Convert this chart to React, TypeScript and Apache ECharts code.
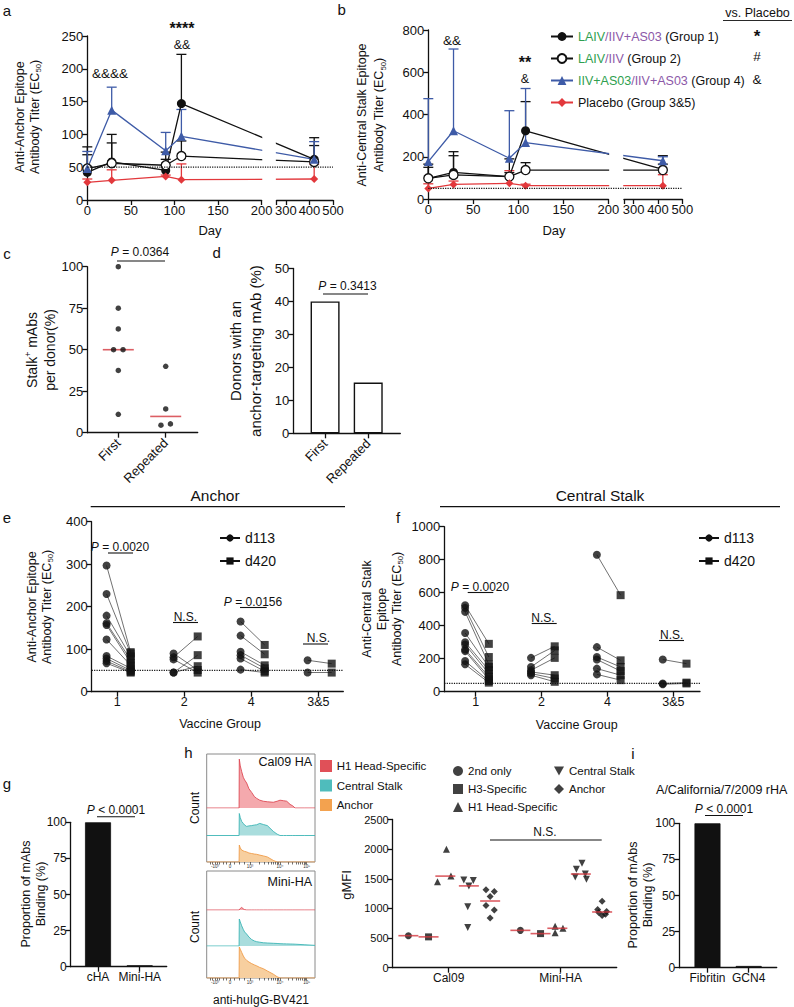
import React, { useEffect, useRef } from 'react';
import * as echarts from 'echarts';

const FONT = '"Liberation Sans", Arial, Helvetica, sans-serif';
const INK = '#111111';
const BLUE = '#3e5ba7';
const RED = '#e2383c';
const GREEN = '#2f9f50';
const PURPLE = '#8c58a8';
const MEDIAN_RED = '#d3363d';

// ---------- panels a & b (time course) ----------
const studyDays = [0, 28, 90, 108, 420];
const groupLabels = ['Group 1', 'Group 2', 'Group 4', 'Placebo'];
const anchorG1 = [42, 58, 45, 147, 62];
const anchorG1Upper = [69, 100, 73, 222, 95];
const anchorG2 = [48, 56, 53, 67, 58];
const anchorG2Upper = [81, 87, 62, 90, 83];
const anchorG4 = [48, 137, 75, 97, 62];
const anchorG4Upper = [74, 172, 103, 138, 89];
const anchorPlacebo = [27, 30, 36, 31, 32];
const anchorPlaceboUpper = [32, 46, 38, 55, 55];
const stalkG1 = [98, 126, 106, 323, 140];
const stalkG1Upper = [165, 224, 190, 461, 205];
const stalkG2 = [98, 114, 106, 137, 137];
const stalkG2Upper = [150, 205, 125, 172, 165];
const stalkG4 = [177, 323, 193, 267, 181];
const stalkG4Upper = [475, 710, 418, 523, 200];
const stalkPlacebo = [50, 69, 74, 63, 63];
const stalkPlaceboUpper = [72, 85, 134, 70, 115];
const dayTicksLeft = [0, 50, 100, 150, 200];
const dayTicksRight = [300, 400, 500];
const detectionLimit = 50;

// broken day axis: 0-200 linear, then 260-500 compressed
const BREAK_AT = 200;
const BREAK_GAP = 17.2;
const SEG2_FROM = 260;
const SEG2_SCALE = 0.27;
const DAY_MAX = 500;
const toAxis = (d: number) => (d <= BREAK_AT ? d : BREAK_AT + BREAK_GAP + (d - SEG2_FROM) * SEG2_SCALE);
const V_MAX = toAxis(DAY_MAX);

// ---------- panel c ----------
const cCategories = ['First', 'Repeated'];
const cFirst = [100, 75, 62.5, 50, 50, 37.5, 11.1];
const cFirstJitter = [0, 0, 0, -0.1, 0.1, 0, 0];
const cRepeated = [40, 14.3, 4.5, 5.3];
const cRepeatedJitter = [0, 0, -0.1, 0.1];

// ---------- panel d ----------
const dCategories = ['First', 'Repeated'];
const dValues = [40, 15.4];

// ---------- panels e & f ----------
const vaccineGroups = ['1', '2', '4', '3&5'];
const eAnchorD113 = [
  [297, 230, 179, 161, 157, 123, 84, 78, 72, 67],
  [90, 81, 76, 45, 45],
  [165, 132, 94, 86, 78, 52],
  [74, 45],
];
const eAnchorD420 = [
  [93, 90, 83, 75, 68, 62, 55, 50, 47, 45],
  [51, 130, 45, 86, 60],
  [110, 88, 62, 55, 48, 45],
  [66, 45],
];
const fStalkD113 = [
  [524, 508, 484, 356, 300, 286, 256, 246, 186, 166],
  [205, 150, 130, 120, 110, 100],
  [830, 270, 210, 195, 140, 105],
  [195, 50, 45],
];
const fStalkD420 = [
  [290, 210, 165, 150, 130, 110, 90, 75, 65, 55],
  [275, 250, 205, 100, 80, 60],
  [585, 190, 150, 125, 100, 70],
  [170, 55, 50],
];

// ---------- panel g ----------
const gCategories = ['cHA', 'Mini-HA'];
const gValues = [100, 1];

// ---------- panel h ----------
const hCategories = ['Cal09', 'Mini-HA'];
const hTypes = ['2nd only', 'H3-Specific', 'H1 Head-Specific', 'Central Stalk', 'Anchor'];
const hSymbols = ['circle', 'rect', 'triangle', 'triangle', 'diamond'];
const hRotate = [0, 0, 0, 180, 0];
const hOffsets = [-0.36, -0.18, -0.03, 0.18, 0.37];
const hCal09 = [[540], [520], [2000, 1450, 1545], [1480, 1470, 1380, 1030, 680], [1315, 1285, 1200, 1050, 975, 840]];
const hCal09Jitter = [[0], [0], [0.01, -0.07, 0.05], [-0.045, 0.04, 0, -0.01, -0.01], [-0.037, 0.037, 0, -0.037, 0.037, 0]];
const hMini = [[630], [575], [590, 700, 665], [1760, 1660, 1580, 1530, 1490], [1120, 980, 950, 930, 900, 880]];
const hMiniJitter = [[0], [0], [-0.02, -0.02, 0.05], [0.01, -0.04, 0.04, -0.05, 0.05], [0, -0.04, 0.04, -0.03, 0.03, 0]];

const histBins = [0, 29.9, 30.1, 31, 32.3, 33.8, 35, 36.9, 39, 41.5, 44, 46.1, 49, 52.3, 56, 61.5, 65, 67.7, 71, 73.9, 77, 79.5, 81.6, 90, 100];
const cal09Head = [0, 0, 0.94, 0.81, 0.7, 0.59, 0.54, 0.48, 0.37, 0.3, 0.22, 0.185, 0.15, 0.13, 0.12, 0.11, 0.13, 0.15, 0.14, 0.13, 0.07, 0.04, 0, 0, 0];
const cal09Stalk = [0, 0, 0.8, 0.65, 0.51, 0.44, 0.38, 0.33, 0.35, 0.36, 0.38, 0.39, 0.44, 0.4, 0.36, 0.15, 0.05, 0, 0, 0, 0, 0, 0, 0, 0];
const cal09Anchor = [0, 0, 0.64, 0.53, 0.45, 0.42, 0.4, 0.38, 0.34, 0.32, 0.3, 0.29, 0.26, 0.23, 0.19, 0.06, 0, 0, 0, 0, 0, 0, 0, 0, 0];
const miniHead = [0, 0, 0.01, 0.04, 0.065, 0.03, 0.01, 0, 0, 0, 0, 0, 0, 0, 0, 0, 0, 0, 0, 0, 0, 0, 0, 0, 0];
const miniStalk = [0, 0, 0.75, 0.67, 0.56, 0.46, 0.39, 0.33, 0.25, 0.18, 0.14, 0.12, 0.105, 0.09, 0.083, 0.075, 0.07, 0.064, 0.06, 0.058, 0.055, 0.053, 0.05, 0.036, 0.017];
const miniAnchor = [0, 0, 0.97, 0.9, 0.8, 0.69, 0.62, 0.55, 0.5, 0.45, 0.41, 0.38, 0.33, 0.29, 0.22, 0.12, 0.04, 0, 0, 0, 0, 0, 0, 0, 0];
const histTickPositions = [7.7, 21.5, 40, 67.7, 92.3];
const histTickLabels = ['-10³', '0', '10³', '10⁴', '10⁵'];
const histMinorTicks = [3, 5, 10, 12, 15, 18, 25, 30, 35, 48.3, 53.2, 56.7, 59.4, 61.6, 63.4, 65, 66.4, 75.1, 79.4, 82.5, 84.9, 86.8, 88.5, 89.9, 91.2];

// ---------- panel i ----------
const iCategories = ['Fibritin', 'GCN4'];
const iValues = [100, 1.2];

const median = (arr: number[]) => {
  const s = [...arr].sort((a, b) => a - b);
  const m = Math.floor(s.length / 2);
  return s.length % 2 ? s[m] : (s[m - 1] + s[m]) / 2;
};

function buildOption() {
  const grids: any[] = [];
  const xAxis: any[] = [];
  const yAxis: any[] = [];
  const series: any[] = [];
  const graphic: any[] = [];
  const legend: any[] = [];

  const addGrid = (box: any, xa: any, ya: any) => {
    const gi = grids.length;
    grids.push({ show: false, containLabel: false, ...box });
    xAxis.push({ ...xa, gridIndex: gi });
    yAxis.push({ ...ya, gridIndex: gi });
    return gi;
  };

  const axis = (o: any) => {
    const { fontSize = 12, ticks, labels, formatter, rotate, margin = 4, ...rest } = o;
    const a: any = {
      type: 'value',
      axisLine: { show: true, onZero: false, lineStyle: { color: INK, width: 1.3 } },
      axisTick: { show: true, length: 5, lineStyle: { color: INK, width: 1.3 } },
      axisLabel: {
        color: INK, fontSize, fontFamily: FONT, margin, showMinLabel: true, showMaxLabel: true,
        formatter: formatter || ((v: number) => String(v)),
      },
      splitLine: { show: false },
      ...rest,
    };
    if (ticks) a.axisTick.customValues = ticks;
    if (labels) a.axisLabel.customValues = labels;
    if (rotate) a.axisLabel.rotate = rotate;
    return a;
  };
  const hidden = (min: number, max: number) => ({ type: 'value', min, max, show: false });

  const errorBars = (gi: number, data: any[], color: string) => ({
    type: 'custom',
    xAxisIndex: gi,
    yAxisIndex: gi,
    data,
    z: 1,
    silent: true,
    renderItem: (_p: any, api: any) => {
      const base = api.coord([api.value(0), api.value(1)]);
      const top = api.coord([api.value(0), api.value(2)]);
      const style = { stroke: color, lineWidth: 1.3 };
      return {
        type: 'group',
        children: [
          { type: 'line', shape: { x1: base[0], y1: base[1], x2: top[0], y2: top[1] }, style },
          { type: 'line', shape: { x1: top[0] - 5, y1: top[1], x2: top[0] + 5, y2: top[1] }, style },
        ],
      };
    },
  });

  const groupStyles = [
    { color: INK, symbol: 'circle', size: 9, item: { color: INK } },
    { color: INK, symbol: 'circle', size: 9, item: { color: '#ffffff', borderColor: INK, borderWidth: 1.3 } },
    { color: BLUE, symbol: 'triangle', size: 9, item: { color: BLUE } },
    { color: RED, symbol: 'diamond', size: 8, item: { color: RED } },
  ];

  const brokenPanel = (box: any, yMax: number, yInt: number, maskTop: number, means: number[][], uppers: number[][]) => {
    const pp = box.width / V_MAX;
    const gi = addGrid(box, hidden(0, V_MAX), axis({ min: 0, max: yMax, interval: yInt, fontSize: 13 }));
    addGrid(
      { left: box.left, top: box.top, width: BREAK_AT * pp, height: box.height },
      axis({ min: 0, max: BREAK_AT, fontSize: 13, ticks: dayTicksLeft, labels: dayTicksLeft }),
      hidden(0, 1)
    );
    addGrid(
      { left: box.left + (BREAK_AT + BREAK_GAP) * pp, top: box.top, width: (V_MAX - BREAK_AT - BREAK_GAP) * pp, height: box.height },
      axis({ min: SEG2_FROM, max: DAY_MAX, fontSize: 13, ticks: [SEG2_FROM, ...dayTicksRight], labels: dayTicksRight }),
      hidden(0, 1)
    );
    means.forEach((m, k) => {
      const st = groupStyles[k];
      series.push(errorBars(gi, studyDays.map((d, i) => [toAxis(d), m[i], uppers[k][i]]), st.color));
      series.push({
        type: 'line',
        name: groupLabels[k],
        xAxisIndex: gi,
        yAxisIndex: gi,
        data: studyDays.map((d, i) => [toAxis(d), m[i]]),
        symbol: st.symbol,
        symbolSize: st.size,
        itemStyle: st.item,
        lineStyle: { color: st.color, width: 1.3 },
        z: 3,
      });
    });
    // white gap between the two axis segments
    series.push({
      type: 'custom',
      xAxisIndex: gi,
      yAxisIndex: gi,
      data: [[BREAK_AT + 0.8, BREAK_AT + BREAK_GAP - 0.8]],
      z: 4,
      silent: true,
      renderItem: (_p: any, api: any) => {
        const a = api.coord([api.value(0), maskTop]);
        const b = api.coord([api.value(1), 0]);
        return { type: 'rect', shape: { x: a[0], y: a[1], width: b[0] - a[0], height: b[1] - a[1] - 1 }, style: { fill: '#ffffff' } };
      },
    });
    series.push({
      type: 'line',
      xAxisIndex: gi,
      yAxisIndex: gi,
      data: [[0, detectionLimit], [V_MAX, detectionLimit]],
      symbol: 'none',
      silent: true,
      lineStyle: { type: 'dotted', color: INK, width: 1.2 },
      z: 5,
    });
    return gi;
  };

  brokenPanel({ left: 87.3, top: 36, width: 245.7, height: 164 }, 250, 50, 250,
    [anchorG1, anchorG2, anchorG4, anchorPlacebo], [anchorG1Upper, anchorG2Upper, anchorG4Upper, anchorPlaceboUpper]);
  brokenPanel({ left: 428.3, top: 30, width: 254, height: 169 }, 800, 200, 400,
    [stalkG1, stalkG2, stalkG4, stalkPlacebo], [stalkG1Upper, stalkG2Upper, stalkG4Upper, stalkPlaceboUpper]);

  // ---- c
  const cG = addGrid(
    { left: 87.3, top: 266.7, width: 110.4, height: 166 },
    axis({ min: 0.346, max: 2.675, fontSize: 13, margin: 8, ticks: [1, 2], labels: [1, 2], rotate: 45, formatter: (v: number) => cCategories[Math.round(v) - 1] }),
    axis({ min: 0, max: 100, interval: 25, fontSize: 13 })
  );
  series.push({
    type: 'scatter', xAxisIndex: cG, yAxisIndex: cG, symbolSize: 5.5, itemStyle: { color: INK }, z: 3,
    data: [...cFirst.map((v, i) => [1 + cFirstJitter[i], v]), ...cRepeated.map((v, i) => [2 + cRepeatedJitter[i], v])],
  });
  series.push({
    type: 'scatter', xAxisIndex: cG, yAxisIndex: cG, symbol: 'rect', symbolSize: [31, 1.6], itemStyle: { color: MEDIAN_RED }, z: 2, silent: true,
    data: [[1, median(cFirst)], [2, median(cRepeated)]],
  });

  // ---- d
  const dG = addGrid(
    { left: 293.3, top: 268.5, width: 107, height: 164.8 },
    axis({ min: 0.263, max: 2.744, fontSize: 13, margin: 8, ticks: [1, 2], labels: [1, 2], rotate: 45, formatter: (v: number) => dCategories[Math.round(v) - 1] }),
    axis({ min: 0, max: 50, interval: 10, fontSize: 13 })
  );
  series.push({
    type: 'bar', xAxisIndex: dG, yAxisIndex: dG, barWidth: 29,
    itemStyle: { color: '#ffffff', borderColor: INK, borderWidth: 1.4 },
    data: dValues.map((v, i) => [i + 1, v]),
  });

  // ---- e & f
  const PRE = -0.16;
  const POST = 0.2;
  const pairedPanel = (box: any, xMin: number, xMax: number, yMax: number, yInt: number, d113: number[][], d420: number[][]) => {
    const gi = addGrid(
      box,
      axis({ min: xMin, max: xMax, fontSize: 12.5, ticks: [1, 2, 3, 4], labels: [1, 2, 3, 4], formatter: (v: number) => vaccineGroups[Math.round(v) - 1] }),
      axis({ min: 0, max: yMax, interval: yInt, fontSize: 13 })
    );
    const links: any[] = [];
    const p113: any[] = [];
    const p420: any[] = [];
    d113.forEach((grp, k) =>
      grp.forEach((v, j) => {
        const a = [k + 1 + PRE, v];
        const b = [k + 1 + POST, d420[k][j]];
        p113.push(a);
        p420.push(b);
        links.push({ coords: [a, b] });
      })
    );
    series.push({ type: 'lines', coordinateSystem: 'cartesian2d', xAxisIndex: gi, yAxisIndex: gi, data: links, silent: true, z: 1, lineStyle: { color: '#333333', width: 0.7, opacity: 1 } });
    series.push({ type: 'line', xAxisIndex: gi, yAxisIndex: gi, data: [[xMin, detectionLimit], [xMax, detectionLimit]], symbol: 'none', silent: true, lineStyle: { type: 'dotted', color: INK, width: 1.2 }, z: 2 });
    series.push({ type: 'scatter', xAxisIndex: gi, yAxisIndex: gi, data: p113, symbol: 'circle', symbolSize: 8, itemStyle: { color: INK }, z: 3 });
    series.push({ type: 'scatter', xAxisIndex: gi, yAxisIndex: gi, data: p420, symbol: 'rect', symbolSize: 8, itemStyle: { color: INK }, z: 3 });
    series.push({ type: 'line', name: 'd113', xAxisIndex: gi, yAxisIndex: gi, data: [], symbol: 'circle', symbolSize: 8, itemStyle: { color: INK }, lineStyle: { color: INK, width: 1.3 } });
    series.push({ type: 'line', name: 'd420', xAxisIndex: gi, yAxisIndex: gi, data: [], symbol: 'rect', symbolSize: 8, itemStyle: { color: INK }, lineStyle: { color: INK, width: 1.3 } });
    return gi;
  };
  pairedPanel({ left: 91.7, top: 521.7, width: 251.6, height: 170 }, 0.618, 4.373, 400, 100, eAnchorD113, eAnchorD420);
  pairedPanel({ left: 444.3, top: 526.7, width: 255.7, height: 165 }, 0.524, 4.405, 1000, 200, fStalkD113, fStalkD420);

  // ---- g
  const gG = addGrid(
    { left: 70.7, top: 822.3, width: 96, height: 144.4 },
    axis({ min: 0.345, max: 2.647, fontSize: 12, ticks: [1, 2], labels: [1, 2], formatter: (v: number) => gCategories[Math.round(v) - 1] }),
    axis({ min: 0, max: 100, interval: 25, fontSize: 12 })
  );
  series.push({ type: 'bar', xAxisIndex: gG, yAxisIndex: gG, barWidth: 26, itemStyle: { color: INK, borderColor: INK, borderWidth: 0.8 }, data: gValues.map((v, i) => [i + 1, v]) });

  // ---- i
  const iG = addGrid(
    { left: 679.3, top: 823.3, width: 97.4, height: 144.4 },
    axis({ min: 0.316, max: 2.68, fontSize: 12, ticks: [1, 2], labels: [1, 2], formatter: (v: number) => iCategories[Math.round(v) - 1] }),
    axis({ min: 0, max: 100, interval: 25, fontSize: 12 })
  );
  series.push({ type: 'bar', xAxisIndex: iG, yAxisIndex: iG, barWidth: 26, itemStyle: { color: INK, borderColor: INK, borderWidth: 0.8 }, data: iValues.map((v, i) => [i + 1, v]) });

  // ---- h scatter
  const hG = addGrid(
    { left: 392.7, top: 819.5, width: 224, height: 148.2 },
    axis({ min: 0.5, max: 2.5, fontSize: 12, ticks: [1, 2], labels: [1, 2], formatter: (v: number) => hCategories[Math.round(v) - 1] }),
    axis({ min: 0, max: 2500, interval: 500, fontSize: 11 })
  );
  const hMedians: any[] = [];
  hTypes.forEach((t, k) => {
    const data: any[] = [];
    hCal09[k].forEach((v, j) => data.push([1 + hOffsets[k] + hCal09Jitter[k][j], v]));
    hMini[k].forEach((v, j) => data.push([2 + hOffsets[k] + hMiniJitter[k][j], v]));
    hMedians.push([1 + hOffsets[k], median(hCal09[k])], [2 + hOffsets[k], median(hMini[k])]);
    series.push({ type: 'scatter', name: t, xAxisIndex: hG, yAxisIndex: hG, data, symbol: hSymbols[k], symbolRotate: hRotate[k], symbolSize: 7, itemStyle: { color: INK }, z: 3 });
  });
  series.push({ type: 'scatter', xAxisIndex: hG, yAxisIndex: hG, data: hMedians, symbol: 'rect', symbolSize: [20, 1.6], itemStyle: { color: MEDIAN_RED }, z: 4, silent: true });

  // ---- h histograms
  const HX = 206.7;
  const HW = 108.3;
  const histFrame = (top: number, bottom: number) =>
    addGrid(
      { left: HX, top, width: HW, height: bottom - top, show: true, borderColor: '#8a8a8a', borderWidth: 1, backgroundColor: 'transparent' },
      {
        type: 'value', min: 0, max: 100,
        axisLine: { show: false },
        axisTick: { show: true, length: 2.5, customValues: [...histTickPositions, ...histMinorTicks], lineStyle: { color: '#333333', width: 0.7 } },
        axisLabel: { show: true, customValues: histTickPositions, fontSize: 4.5, margin: 2, color: '#333333', fontFamily: FONT, formatter: (v: number) => histTickLabels[histTickPositions.indexOf(v)] ?? '' },
        splitLine: { show: false },
      },
      hidden(0, 1)
    );
  const histCurve = (top: number, bottom: number, values: number[], line: string, fill: string) => {
    const gi = addGrid({ left: HX, top, width: HW, height: bottom - top }, hidden(0, 100), hidden(0, 1));
    series.push({
      type: 'line', xAxisIndex: gi, yAxisIndex: gi, silent: true, symbol: 'none', z: 2,
      data: histBins.map((x, i) => [x, values[i]]),
      lineStyle: { color: line, width: 0.9 },
      areaStyle: { color: fill, opacity: 1 },
    });
  };
  histFrame(754, 862);
  histFrame(871, 978);
  const HRED = ['#de4a55', '#f4a9ad'];
  const HTEAL = ['#3db5b5', '#a9dddd'];
  const HORANGE = ['#ef9c4a', '#f7cf9f'];
  histCurve(756, 808, cal09Head, HRED[0], HRED[1]);
  histCurve(808, 835.5, cal09Stalk, HTEAL[0], HTEAL[1]);
  histCurve(835.5, 862, cal09Anchor, HORANGE[0], HORANGE[1]);
  histCurve(871, 910, miniHead, HRED[0], HRED[1]);
  histCurve(910, 946, miniStalk, HTEAL[0], HTEAL[1]);
  histCurve(946, 978, miniAnchor, HORANGE[0], HORANGE[1]);

  // ---- legends
  const rich = {
    g: { color: GREEN, fontSize: 12.5, fontFamily: FONT },
    p: { color: PURPLE, fontSize: 12.5, fontFamily: FONT },
    k: { color: INK, fontSize: 12.5, fontFamily: FONT },
  };
  const legendText: any = {
    'Group 1': '{g|LAIV}{p|/IIV+AS03}{k| (Group 1)}',
    'Group 2': '{g|LAIV}{p|/IIV}{k| (Group 2)}',
    'Group 4': '{g|IIV+AS03}{p|/IIV+AS03}{k| (Group 4)}',
    Placebo: '{k|Placebo (Group 3&5)}',
  };
  legend.push({
    orient: 'vertical', left: 545, top: 25, itemGap: 9, itemWidth: 22, itemHeight: 11, selectedMode: false, z: 10,
    data: groupLabels, formatter: (n: string) => legendText[n],
    textStyle: { fontSize: 12.5, fontFamily: FONT, color: INK, rich },
  });
  const dLegend = (left: number) => ({
    orient: 'vertical', left, top: 526, itemGap: 9, itemWidth: 20, itemHeight: 9, selectedMode: false, z: 10,
    data: ['d113', 'd420'], textStyle: { fontSize: 14, fontFamily: FONT, color: INK },
  });
  legend.push(dLegend(214));
  legend.push(dLegend(693));
  legend.push({
    orient: 'vertical', left: 448, top: 760, itemGap: 6, itemWidth: 10, itemHeight: 10, selectedMode: false, z: 10,
    data: ['2nd only', 'H3-Specific', 'H1 Head-Specific'], textStyle: { fontSize: 11.5, fontFamily: FONT, color: INK },
  });
  legend.push({
    orient: 'vertical', left: 549, top: 760, itemGap: 6, itemWidth: 10, itemHeight: 10, selectedMode: false, z: 10,
    data: [{ name: 'Central Stalk', icon: 'path://M0,0L10,0L5,9Z' }, 'Anchor'],
    textStyle: { fontSize: 11.5, fontFamily: FONT, color: INK },
  });

  // ---- graphic texts
  const txt = (x: number, y: number, text: string, fontSize = 12, extra: any = {}) => ({
    type: 'text', x, y, z: 20, silent: true,
    style: { text, fontSize, fontFamily: FONT, fill: INK, align: 'center', verticalAlign: 'middle', ...extra },
  });
  const hl = (x1: number, x2: number, y: number, w = 1.1) => ({
    type: 'line', z: 20, silent: true, shape: { x1, y1: y, x2, y2: y }, style: { stroke: INK, lineWidth: w },
  });
  const subRich = (fs: number) => ({
    sub: { fontSize: fs * 0.62, fontFamily: FONT, fill: INK, verticalAlign: 'bottom' },
    sup: { fontSize: fs * 0.62, fontFamily: FONT, fill: INK, verticalAlign: 'top' },
  });
  const vtxt = (x: number, y: number, text: string, fontSize: number, lineHeight: number) => ({
    type: 'text', x, y, rotation: Math.PI / 2, z: 20, silent: true,
    style: { text, fontSize, lineHeight, fontFamily: FONT, fill: INK, align: 'center', verticalAlign: 'middle', rich: subRich(fontSize) },
  });
  const pRich = { i: { fontStyle: 'italic', fontSize: 12, fontFamily: FONT, fill: INK } };
  const pval = (cx: number, cy: number, text: string, x1: number, x2: number, ly: number) => [
    txt(cx, cy, text, 12, { rich: pRich }),
    hl(x1, x2, ly),
  ];

  const letters: [string, number, number][] = [
    ['a', 7, 10], ['b', 341.7, 9], ['c', 7, 253], ['d', 216.7, 252], ['e', 7, 517],
    ['f', 398, 517], ['g', 7, 783], ['h', 188.3, 752], ['i', 633, 753],
  ];
  letters.forEach(([l, x, y]) => graphic.push(txt(x, y, l, 15)));

  graphic.push(
    txt(110, 73, '&&&&', 13.5),
    txt(182, 28.5, '****', 16, { fontWeight: 'bold' }),
    txt(182, 45, '&&', 12.5),
    txt(452, 40, '&&', 13.5),
    txt(525, 62.5, '**', 16, { fontWeight: 'bold' }),
    txt(525, 79, '&', 12.5),
    txt(757.5, 13, 'vs. Placebo', 12.5),
    hl(723, 792, 20.5, 0.9),
    txt(757, 36, '*', 17, { fontWeight: 'bold' }),
    txt(757, 56, '#', 13.5),
    txt(757, 79, '&', 13.5),
    txt(210, 230, 'Day', 13),
    txt(554, 230, 'Day', 13),
    vtxt(27.5, 117, 'Anti-Anchor Epitope\nAntibody Titer (EC{sub|50})', 12.5, 15),
    vtxt(370.5, 115, 'Anti-Central Stalk Epitope\nAntibody Titer (EC{sub|50})', 12.5, 17),
    vtxt(41, 350, 'Stalk{sup|+} mAbs\nper donor(%)', 14, 18),
    vtxt(245, 351, 'Donors with an\nanchor-targeting mAb (%)', 15, 20),
    vtxt(39, 607, 'Anti-Anchor Epitope\nAntibody Titer (EC{sub|50})', 12.5, 15),
    vtxt(382, 609, 'Anti-Central Stalk\nEpitope\nAntibody Titer (EC{sub|50})', 12.5, 15),
    vtxt(33.5, 894, 'Proportion of mAbs\nBinding (%)', 12.5, 15),
    vtxt(640.5, 895, 'Proportion of mAbs\nBinding (%)', 12.5, 15),
    vtxt(346.7, 885, 'gMFI', 13, 15),
    vtxt(195, 808, 'Count', 12, 14),
    vtxt(195, 927, 'Count', 12, 14),
    txt(220, 723.5, 'Vaccine Group', 12.5),
    txt(576.7, 725, 'Vaccine Group', 12.5),
    txt(261, 1000, 'anti-huIgG-BV421', 12),
    txt(215, 495, 'Anchor', 15.5),
    hl(90.7, 345, 506.7, 1.2),
    txt(600, 495, 'Central Stalk', 15.5),
    hl(440, 780, 506.7, 1.2),
    txt(721.7, 790, 'A/California/7/2009 rHA', 12.5),
    txt(312, 762, 'Cal09 HA', 12.5, { align: 'right' }),
    txt(312, 882, 'Mini-HA', 12.5, { align: 'right' }),
    txt(545, 831.7, 'N.S.', 12),
    hl(490, 601.7, 840, 1.1),
    ...pval(140, 252, '{i|P} = 0.0364', 117, 165, 261),
    ...pval(347.5, 286, '{i|P} = 0.3413', 323, 368, 294),
    ...pval(120, 546.7, '{i|P} = 0.0020', 108, 133, 553),
    ...pval(253, 601.7, '{i|P} = 0.0156', 240, 266.7, 607.5),
    ...pval(185.3, 616.7, 'N.S.', 173, 198, 622.5),
    ...pval(318.3, 638.3, 'N.S.', 303, 328, 644),
    ...pval(480, 586.7, '{i|P} = 0.0020', 467.7, 493.3, 592.5),
    ...pval(543, 618, 'N.S.', 531.7, 556.7, 623.5),
    ...pval(671.7, 635, 'N.S.', 659, 684, 640.5),
    ...pval(116, 810, '{i|P} < 0.0001', 97, 135, 816.7),
    ...pval(724, 809.3, '{i|P} < 0.0001', 705, 743, 815.5)
  );

  const swatches: [string, string, number][] = [
    ['H1 Head-Specific', '#e05058', 766],
    ['Central Stalk', '#4fbcbc', 785.5],
    ['Anchor', '#f3a24f', 805],
  ];
  swatches.forEach(([label, color, y]) => {
    graphic.push({ type: 'rect', z: 20, silent: true, shape: { x: 320, y: y - 6, width: 12, height: 12 }, style: { fill: color } });
    graphic.push(txt(336.7, y, label, 11.5, { align: 'left' }));
  });

  return {
    animation: false,
    backgroundColor: '#ffffff',
    textStyle: { fontFamily: FONT },
    grid: grids,
    xAxis,
    yAxis,
    series,
    legend,
    graphic,
  };
}

export default function App() {
  const ref = useRef<HTMLDivElement>(null);
  useEffect(() => {
    const chart = echarts.init(ref.current as HTMLDivElement, null, { renderer: 'svg' });
    chart.setOption(buildOption() as any);
    return () => chart.dispose();
  }, []);
  return (
    <div
      ref={ref}
      style={{ position: 'absolute', left: 0, top: 0, width: 794, height: 1007, background: '#ffffff' }}
    />
  );
}
